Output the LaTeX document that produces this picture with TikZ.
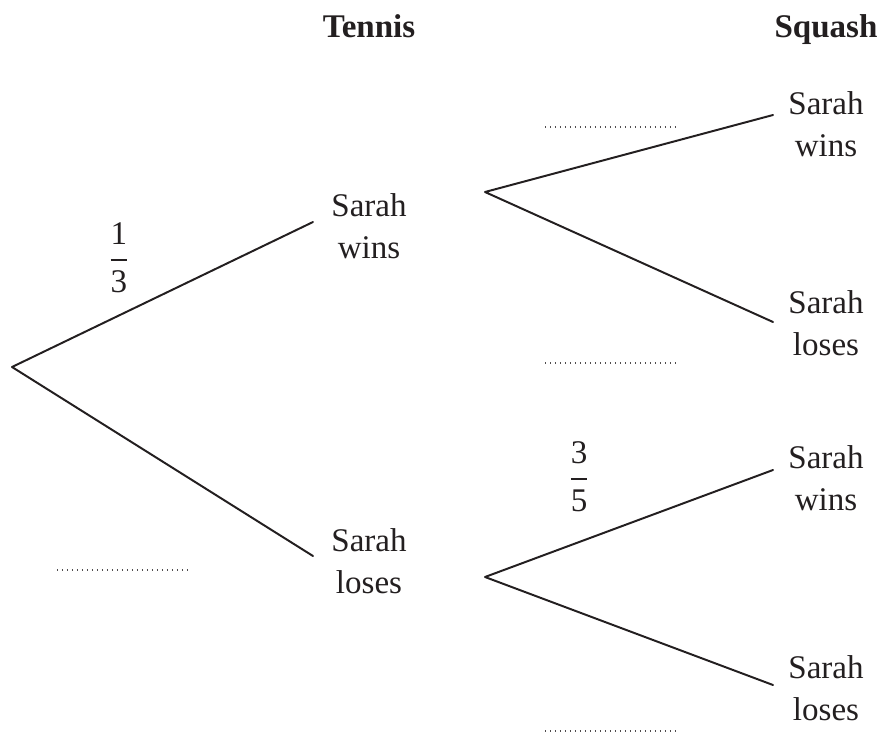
\documentclass[tikz,border=0pt]{standalone}
\usepackage{amsmath}
\usepackage{fontspec}
\setmainfont{Liberation Serif}
\usetikzlibrary{positioning}
\definecolor{ink}{HTML}{231F20}
\tikzset{
    every picture/.style={line cap=round,line join=round},
    outcome/.style={align=center,text=ink,inner sep=0pt,
      font=\fontsize{23.5}{30}\selectfont},
    heading/.style={text=ink,inner sep=0pt,anchor=base,
      font=\fontsize{23.5}{30}\selectfont\bfseries},
    branch/.style={draw=ink,line width=1.4pt},
    blank/.style={draw=ink!80,line width=1.1pt,line cap=butt,
      dash pattern=on 0.8pt off 2.75pt},
    prob/.style={text=ink,inner sep=0pt,font=\fontsize{23.5}{30}\selectfont}
}

\begin{document}
\begin{tikzpicture}[x=0.025cm,y=-0.025cm]
  \useasboundingbox (0,0) rectangle (891,735);
  % column headings
  \node[heading] (tennis) at (369,38) {Tennis};
  \node[heading] (squash) at (826,38) {Squash};
  % tennis outcomes
  \coordinate (root) at (12,367);
  \node[outcome] (tw) at (369,226) {Sarah\\wins};
  \node[outcome] (tl) at (369,561) {Sarah\\loses};
  \coordinate (twin) at (313,222);
  \coordinate (tlin) at (313,556);
  \draw[branch] (twin)--(root)--(tlin);
  % squash outcomes after a win
  \coordinate (twout) at (485,192);
  \node[outcome] (ww) at (826,124) {Sarah\\wins};
  \node[outcome] (wl) at (826,323) {Sarah\\loses};
  \coordinate (wwin) at (773,115);
  \coordinate (wlin) at (773,322);
  \draw[branch] (wwin)--(twout)--(wlin);
  % squash outcomes after a loss
  \coordinate (tlout) at (485,577);
  \node[outcome] (lw) at (826,478) {Sarah\\wins};
  \node[outcome] (ll) at (826,688) {Sarah\\loses};
  \coordinate (lwin) at (773,470);
  \coordinate (llin) at (773,685);
  \draw[branch] (lwin)--(tlout)--(llin);
  % probabilities
  \node[prob] (p1) at (119,258) {$\dfrac{\text{1}}{\text{3}}$};
  \node[prob] (p2) at (579,477) {$\dfrac{\text{3}}{\text{5}}$};
  % answer spaces
  \draw[blank] (545,127) -- ++(130,0);
  \draw[blank] (545,363) -- ++(130,0);
  \draw[blank] (57,570) -- ++(130,0);
  \draw[blank] (545,731) -- ++(130,0);
\end{tikzpicture}
\end{document}
